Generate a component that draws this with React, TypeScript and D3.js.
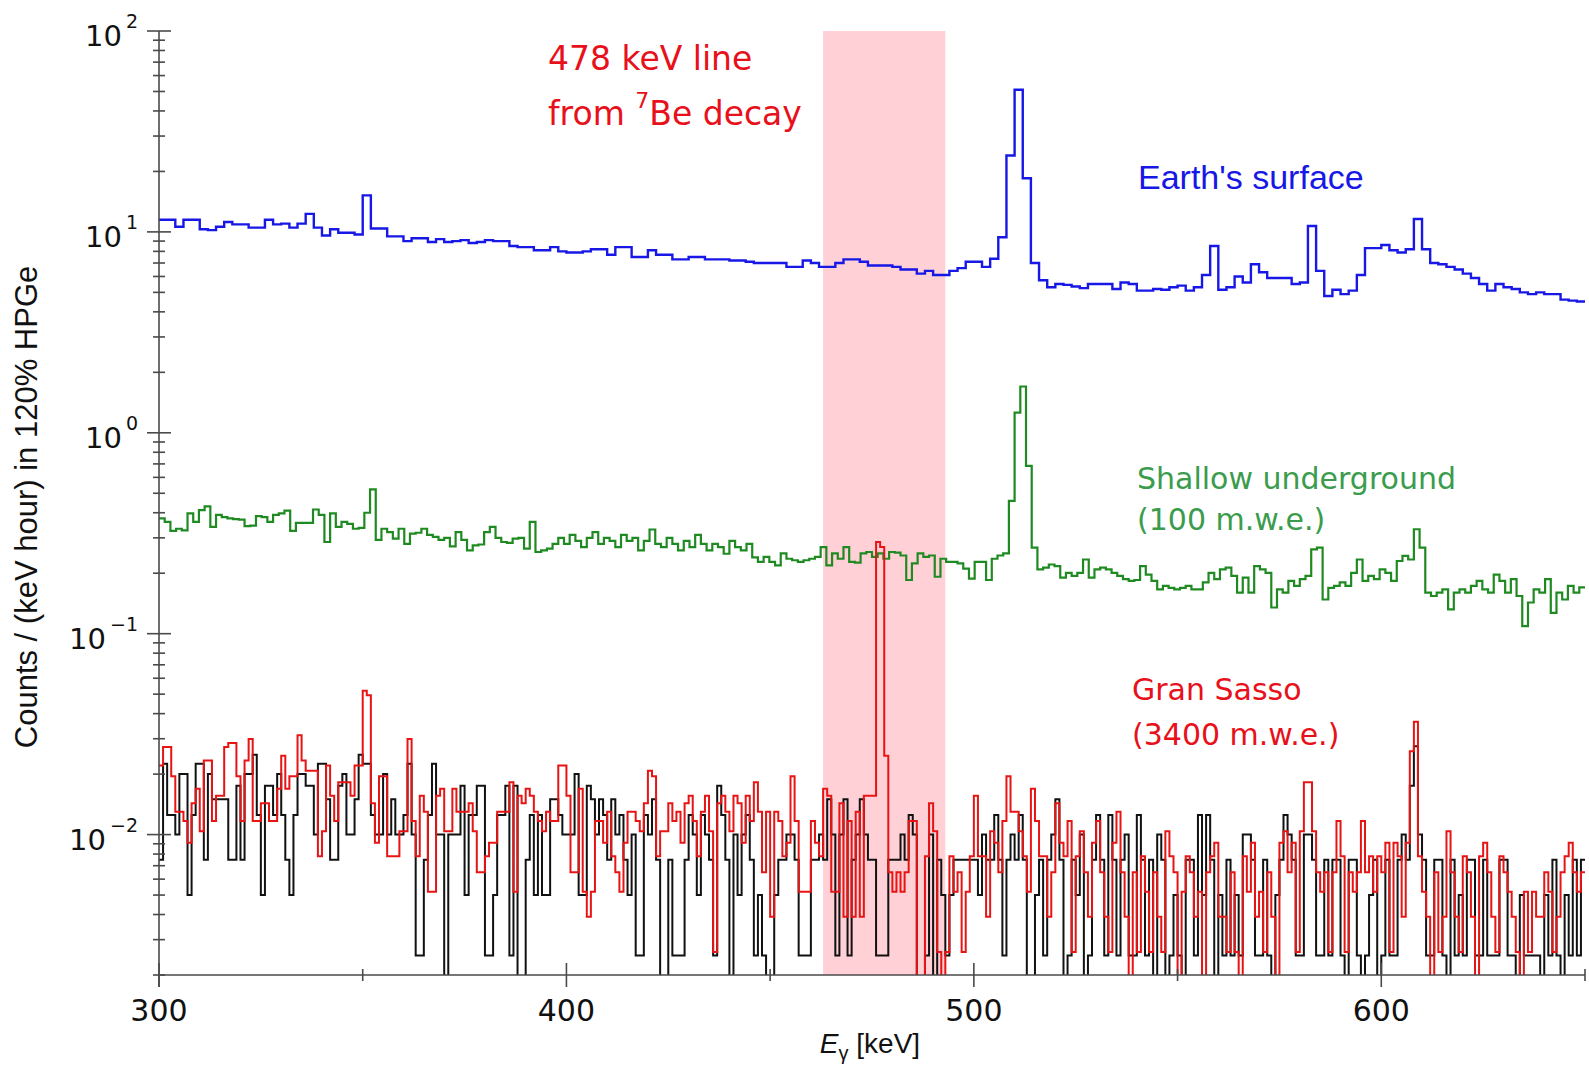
import React from 'react';
import * as d3 from 'd3';

// axis ranges
const energyRange = [300, 650];
const countRange = [0.002, 100];
const beBand = [463, 493]; // 478 keV window

const xMajorTicks = [300, 400, 500, 600];
const xMinorTicks = [350, 450, 550, 650];
const yDecades = [-2, -1, 0, 1, 2];

// Earth's surface, 2 keV bins from 300 keV, counts/(keV h)
const surfaceBin = 2;
const surfaceValues = [
  11.5, 11.5, 10.6, 11.5, 11.5, 10.3, 10.2, 10.6, 11.2, 10.9,
  10.9, 10.5, 10.5, 11.5, 10.9, 11.0, 10.5, 11.0, 12.3, 10.5,
  9.6, 10.3, 9.9, 9.9, 9.7, 15.2, 10.4, 10.4, 9.5, 9.5,
  9.0, 9.3, 9.3, 8.9, 9.2, 8.9, 9.0, 9.1, 8.8, 8.9, 9.1, 9.0,
  9.0, 8.5, 8.4, 8.4, 8.1, 8.1, 8.4, 8.0, 7.9,
  7.9, 8.0, 8.2, 8.2, 7.7, 8.4, 8.4, 7.5, 7.5, 8.1,
  7.7, 7.7, 7.3, 7.3, 7.5, 7.5, 7.3, 7.3, 7.3, 7.2,
  7.2, 7.1, 7.0, 7.0, 7.0, 7.0, 6.7, 6.7, 7.2, 7.0,
  6.7, 6.7, 7.0, 7.3, 7.3, 7.1, 6.8, 6.8, 6.8, 6.7,
  6.5, 6.5, 6.2, 6.4, 6.1, 6.1,
  6.4, 6.6, 7.1, 7.1, 6.7, 7.35,
  9.4, 24, 51,
  18.5, 7.0, 5.75, 5.3, 5.5, 5.45, 5.35, 5.25, 5.5, 5.5,
  5.5, 5.2, 5.6, 5.5, 5.1, 5.1, 5.2, 5.15, 5.3, 5.4,
  5.1, 5.3, 6.1, 8.5, 5.15, 5.3, 6.0, 5.6, 6.9, 6.3,
  5.9, 5.9, 5.9, 5.5, 5.6, 10.7, 6.4, 4.8, 5.15, 4.9,
  5.1, 6.1, 8.3, 8.3, 8.6, 8.1, 7.9, 8.2, 11.6, 8.2,
  7.0, 6.9, 6.7, 6.5, 6.2, 5.9, 5.5, 5.1, 5.5, 5.3,
  5.2, 5.0, 4.9, 5.0, 4.9, 4.9, 4.6, 4.55, 4.5
];

// shallow underground (100 m.w.e.), 1.4 keV bins from 300 keV
const shallowBin = 1.4;
const shallowValues = [
  0.375, 0.36, 0.325, 0.333, 0.327, 0.397, 0.36, 0.412, 0.43, 0.34,
  0.39, 0.38, 0.375, 0.372, 0.37, 0.343, 0.345, 0.385, 0.38, 0.36,
  0.39, 0.397, 0.41, 0.325, 0.356, 0.356, 0.356, 0.415, 0.39, 0.286,
  0.397, 0.34, 0.36, 0.352, 0.333, 0.336, 0.40, 0.523, 0.293, 0.333,
  0.32, 0.297, 0.333, 0.28, 0.315, 0.318, 0.333, 0.31, 0.303, 0.293,
  0.30, 0.272, 0.32, 0.293, 0.26, 0.275, 0.278, 0.32, 0.34, 0.30,
  0.286, 0.283, 0.297, 0.30, 0.265, 0.36, 0.255, 0.26, 0.265, 0.28,
  0.30, 0.28, 0.31, 0.29, 0.27, 0.30, 0.32, 0.28, 0.30, 0.29,
  0.27, 0.31, 0.29, 0.30, 0.26, 0.29, 0.33, 0.28, 0.27, 0.30,
  0.28, 0.26, 0.29, 0.27, 0.31, 0.28, 0.26, 0.28, 0.27, 0.25,
  0.29, 0.27, 0.26, 0.28, 0.24,
  0.228, 0.241, 0.228, 0.219, 0.251, 0.236, 0.232, 0.228, 0.232, 0.236,
  0.241, 0.27, 0.219, 0.251, 0.236, 0.27, 0.228, 0.226, 0.251, 0.255,
  0.241, 0.251, 0.236, 0.255, 0.253, 0.245, 0.185, 0.224, 0.251, 0.241,
  0.245, 0.192, 0.236, 0.228, 0.228, 0.224, 0.211, 0.188, 0.228, 0.228,
  0.185, 0.236, 0.245, 0.251,
  0.458, 1.26, 1.7, 0.684, 0.268,
  0.209, 0.213, 0.221, 0.217, 0.19, 0.201, 0.194, 0.201, 0.234, 0.19,
  0.209, 0.213, 0.209, 0.201, 0.194, 0.187, 0.183, 0.185, 0.217, 0.197,
  0.183, 0.166, 0.173, 0.169, 0.166, 0.169, 0.173, 0.166, 0.166, 0.18,
  0.201, 0.187, 0.209, 0.213, 0.194, 0.16, 0.19, 0.16, 0.217, 0.209,
  0.201, 0.135, 0.166, 0.16, 0.183, 0.173, 0.187, 0.194, 0.263, 0.268,
  0.148, 0.169, 0.173, 0.18, 0.173, 0.201, 0.234, 0.183, 0.194, 0.187,
  0.209, 0.201, 0.183, 0.23, 0.244, 0.234, 0.331, 0.268, 0.16, 0.154,
  0.16, 0.166, 0.132, 0.16, 0.166, 0.16, 0.173, 0.183, 0.166, 0.16,
  0.197, 0.183, 0.16, 0.187, 0.154, 0.109, 0.143, 0.166, 0.16, 0.187,
  0.127, 0.16, 0.148, 0.173, 0.16, 0.17
];

// Gran Sasso (red), 1 keV bins, counts of 0.0013
const sassoBin = 1;
const sassoUnit = 0.0013;
const sassoCounts = [
  17, 21, 21, 15, 10, 10, 9, 7, 11, 13,
  8, 18, 18, 9, 12, 12, 21, 22, 22, 15,
  9, 18, 23, 9, 9, 11, 11, 9, 9, 13,
  19, 13, 15, 15, 24, 18, 16, 16, 16, 6,
  8, 17, 12, 9, 14, 14, 14, 12, 17, 17,
  40, 38, 11, 7, 15, 15, 6, 6, 6, 8,
  8, 23, 9,
  6, 12, 10, 4, 4, 12, 13, 8, 8, 13,
  10, 10, 10, 11, 8, 5, 5, 6, 7, 7,
  10, 10, 10, 14, 4, 12, 11, 13, 12, 10,
  9, 8, 10, 9, 9, 17, 17, 12, 5, 5,
  13, 4, 3,
  4, 9, 9, 7, 10, 6, 5, 4, 7, 10,
  10, 9, 8, 11, 16, 15, 6, 8, 8, 11,
  9, 10, 7, 11, 12, 9, 6, 10, 12, 8,
  2, 11, 12, 10, 8, 12, 11, 7, 12, 9,
  14,
  10, 5, 10, 3, 10, 9, 6, 7, 15, 9,
  4, 4, 4, 9, 7, 6, 13, 12, 4, 4,
  11, 3, 9, 3, 10, 3, 12, 12, 12, 220,
  208, 19, 5, 4, 5, 4, 5, 9, 9, 0,
  0, 6, 11, 8, 2, 0, 2, 6, 4, 5,
  2, 4, 6, 12, 6, 6, 3, 8, 7, 5,
  9, 15, 10, 10,
  8, 6, 4, 13, 9, 6, 6, 3, 5, 11,
  7, 6, 9, 2, 6, 8, 5, 3, 7, 9,
  5, 3, 2, 7, 10, 5, 3, 0, 5, 2,
  6, 4, 2, 5, 3, 2, 8, 6, 5, 0,
  4, 6, 5, 3, 4, 0, 5, 6, 7, 3,
  3, 2, 5, 2, 0, 6, 4, 7, 3, 4,
  2, 5, 3, 0, 7, 8, 5, 7, 2, 8,
  14, 14, 8, 5, 4, 5, 2, 5, 9, 6,
  2, 5, 4, 5, 9, 5, 6, 4, 6, 5,
  7, 2, 7, 6, 3, 7, 20, 28, 6, 4,
  3, 0, 5, 2, 3, 8, 5, 3, 2, 6,
  5, 3, 0, 6, 7, 5, 3, 2, 6, 5,
  4, 3, 2, 0, 4, 2, 4, 3, 3, 5,
  4, 2, 3, 5, 6, 7, 5, 4, 5
];

// black spectrum, 1 keV bins, counts of 0.0025
const blackBin = 1;
const blackUnit = 0.0025;
const blackCounts = [
  3, 9, 5, 5, 4, 8, 8, 2, 5, 9,
  9, 3, 8, 6, 6, 6, 6, 3, 3, 7,
  3, 8, 8, 10, 5, 2, 7, 7, 5, 8,
  5, 3, 2, 5, 8, 8, 7, 7, 4, 9,
  9, 6, 3, 3, 7, 8, 4, 4, 6, 10,
  9, 9, 5, 4, 4, 8, 4, 6, 4, 4,
  5, 9, 4, 1, 1, 3, 5, 9, 4, 4,
  0, 4, 4, 4, 7, 2, 5, 5, 7, 7,
  1, 1, 2, 5, 5, 7, 1, 7, 0, 0,
  3, 5, 2, 5, 2, 2, 6, 6, 5, 4,
  4, 4, 8, 2, 2, 7, 6,
  4, 6, 5, 3, 6, 4, 5, 3, 2, 4,
  1, 1, 5, 4, 6, 3, 0, 0, 3, 1,
  1, 1, 3, 5, 4, 2, 5, 4, 3, 1,
  7, 5, 3, 0, 4, 2, 4, 5, 3, 1,
  2, 1, 0, 0, 2, 3, 3, 4, 4, 3,
  1, 1, 1, 3, 3, 4, 3, 6, 4, 1,
  4, 6, 1, 3, 4, 6, 4, 3, 3, 1,
  1, 1, 3, 3, 3, 4, 3, 5, 4, 0,
  0, 1, 4, 0, 3, 2, 1, 2, 3, 3,
  3, 3, 3, 3, 2, 4, 3, 3, 5, 3,
  1, 3, 4, 3, 5,
  3, 0, 0, 2, 3, 1, 3, 4, 6, 3,
  0, 1, 3, 2, 4, 0, 1, 3, 5,
  3, 1, 5, 3, 1, 3, 4, 1, 1, 5,
  3, 1, 3, 0, 4, 3, 0, 1, 2, 1,
  0, 3, 3, 1, 5, 2, 5, 3, 0, 2,
  1, 3, 1, 2, 1, 4, 4, 3, 1, 1,
  3, 1, 0, 2, 3, 5, 4, 3, 1, 1,
  4, 4, 3, 1, 1, 3, 1, 3, 3, 1,
  0, 3, 3, 1, 0, 1, 2, 3, 0, 1,
  3, 1, 1, 3, 4, 3, 7, 11, 4, 3,
  1, 1, 3, 3, 1, 0, 3, 1, 2, 1,
  3, 3, 1, 1, 3, 1, 1, 1, 3, 3,
  1, 1, 0, 2, 1, 1, 1, 1, 0, 2,
  1, 3, 1, 0, 2, 1, 3, 1, 3
];

const W = 1589;
const H = 1073;
const left = 159, right = 1585, top = 31, bottom = 975;

const tickFont = 'DejaVu Sans';
const labelFont = 'Liberation Sans';

export default function App() {
  const x = d3.scaleLinear().domain(energyRange).range([left, right]);
  const y = d3.scaleLog().domain(countRange).range([bottom, top]);

  // step histogram path, empty bins drop below the axis (clipped)
  const hist = (values, binWidth) => {
    const pts = values.map((v, i) => [energyRange[0] + i * binWidth, v]);
    pts.push([energyRange[0] + values.length * binWidth, values[values.length - 1]]);
    return d3.line()
      .x(d => x(d[0]))
      .y(d => (d[1] > 0 ? y(d[1]) : bottom + 40))
      .curve(d3.curveStepAfter)(pts);
  };

  const minorY = y.ticks().filter(t => Math.abs(Math.log10(t) - Math.round(Math.log10(t))) > 1e-6);
  const axisColor = '#4a4a4a';

  return (
    <div style={{ position: 'absolute', left: 0, top: 0 }}>
      <svg width={W} height={H} style={{ display: 'block', background: '#fff' }}>
        <defs>
          <clipPath id="plotClip">
            <rect x={left} y={0} width={right - left} height={bottom} />
          </clipPath>
        </defs>

        {/* 7Be window */}
        <rect x={x(beBand[0])} y={top} width={x(beBand[1]) - x(beBand[0])} height={bottom - top} fill="#ffd0d5" />

        <g clipPath="url(#plotClip)" fill="none" strokeLinejoin="miter">
          <path d={hist(surfaceValues, surfaceBin)} stroke="#1717e6" strokeWidth={2.4} />
          <path d={hist(shallowValues, shallowBin)} stroke="#1f8a22" strokeWidth={2.2} />
          <path d={hist(blackCounts.map(c => c * blackUnit), blackBin)} stroke="#111" strokeWidth={2} />
          <path d={hist(sassoCounts.map(c => c * sassoUnit), sassoBin)} stroke="#e81414" strokeWidth={2} />
        </g>

        {/* axes */}
        <g stroke={axisColor} strokeWidth={1.6}>
          <line x1={left} x2={left} y1={top} y2={bottom + 12} />
          <line x1={left} x2={right} y1={bottom} y2={bottom} />
          {yDecades.map(d => (
            <line key={'ym' + d} x1={left - 12} x2={left + 12} y1={y(10 ** d)} y2={y(10 ** d)} />
          ))}
          {minorY.map(t => (
            <line key={'yn' + t} x1={left - 6} x2={left + 6} y1={y(t)} y2={y(t)} />
          ))}
          {xMajorTicks.map(t => (
            <line key={'xm' + t} x1={x(t)} x2={x(t)} y1={bottom - 12} y2={bottom + 12} />
          ))}
          {xMinorTicks.map(t => (
            <line key={'xn' + t} x1={x(t)} x2={x(t)} y1={bottom - 6} y2={bottom + 6} />
          ))}
        </g>

        {/* tick labels */}
        <g fontFamily={tickFont} fill="#111">
          {yDecades.map(d => (
            <text key={'yl' + d} x={138} y={y(10 ** d) + 15} textAnchor="end" fontSize={29}>
              10<tspan dx={4} dy={-18} fontSize={19}>{d < 0 ? '\u2212' + Math.abs(d) : d}</tspan>
            </text>
          ))}
          {xMajorTicks.map(t => (
            <text key={'xl' + t} x={x(t)} y={1021} textAnchor="middle" fontSize={30}>{t}</text>
          ))}
        </g>

        {/* axis titles */}
        <text
          transform={`translate(37,${507}) rotate(-90)`}
          textAnchor="middle"
          fontFamily={labelFont}
          fontSize={31}
          fill="#111"
        >
          Counts / (keV hour) in 120% HPGe
        </text>
        <text x={870} y={1053} textAnchor="middle" fontFamily={labelFont} fontSize={28} fill="#111">
          <tspan fontStyle="italic">E</tspan>
          <tspan dy={7} fontSize={20}>γ</tspan>
          <tspan dy={-7}> [keV]</tspan>
        </text>

        {/* annotations */}
        <g fontFamily={tickFont} fill="#e8101a" fontSize={33}>
          <text x={548} y={70}>478 keV line</text>
          <text x={548} y={125}>
            from <tspan dy={-17} fontSize={22}>7</tspan><tspan dy={17}>Be decay</tspan>
          </text>
        </g>
        <text x={1138} y={189} fontFamily={labelFont} fontSize={34} fill="#1717e6">Earth's surface</text>
        <g fontFamily={tickFont} fontSize={30} fill="#3a9c4c">
          <text x={1137} y={489}>Shallow underground</text>
          <text x={1137} y={530}>(100 m.w.e.)</text>
        </g>
        <g fontFamily={tickFont} fontSize={30} fill="#e8101a">
          <text x={1132} y={700}>Gran Sasso</text>
          <text x={1132} y={745}>(3400 m.w.e.)</text>
        </g>
      </svg>
    </div>
  );
}
